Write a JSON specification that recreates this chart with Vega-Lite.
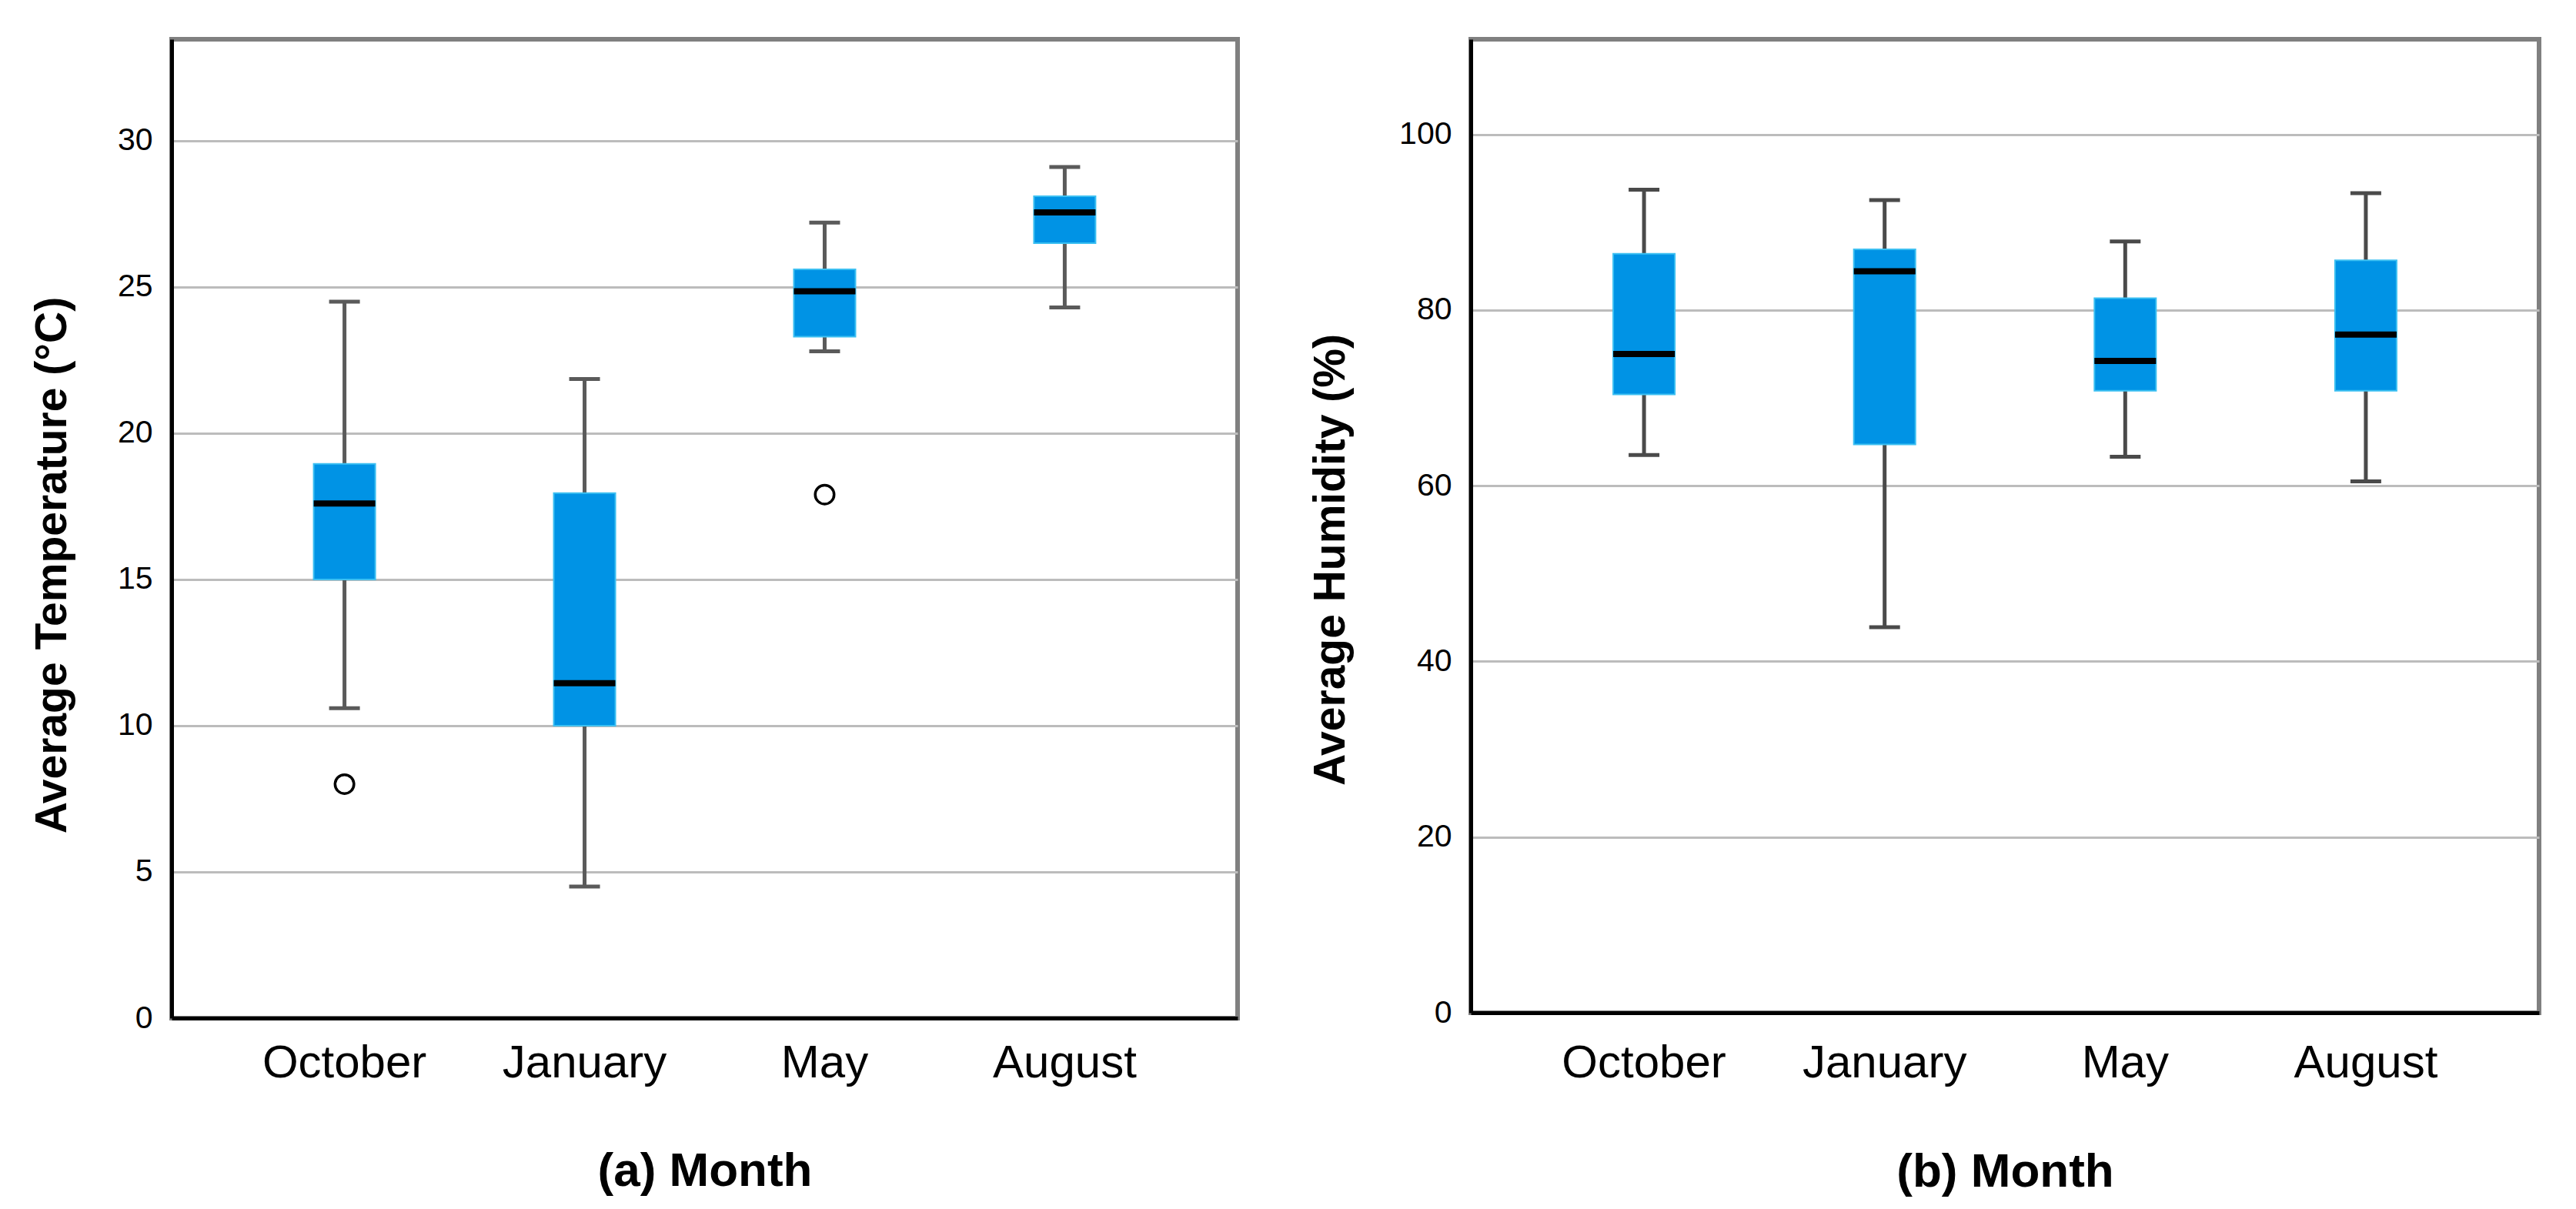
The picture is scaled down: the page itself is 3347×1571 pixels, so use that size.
{
  "$schema": "https://vega.github.io/schema/vega-lite/v6.json",
  "background": "white",
  "padding": {"left": 36, "top": 48, "right": 10, "bottom": 0},
  "config": {
    "font": "Liberation Sans",
    "view": {"stroke": "#808080", "strokeWidth": 6},
    "axis": {
      "labelColor": "#000000",
      "titleColor": "#000000",
      "labelFont": "Liberation Sans",
      "titleFont": "Liberation Sans",
      "domainColor": "#000000",
      "domainWidth": 5,
      "ticks": false,
      "tickSize": 0,
      "labelLimit": 0,
      "gridColor": "#bcbcbc",
      "gridWidth": 3
    },
    "concat": {"spacing": 86}
  },
  "datasets": {
    "temp": [
      {"month": "October", "lower": 10.6, "q1": 15.0, "median": 17.6, "q3": 18.95, "upper": 24.5},
      {"month": "January", "lower": 4.5, "q1": 10.0, "median": 11.45, "q3": 17.95, "upper": 21.85},
      {"month": "May", "lower": 22.8, "q1": 23.3, "median": 24.85, "q3": 25.6, "upper": 27.2},
      {"month": "August", "lower": 24.3, "q1": 26.5, "median": 27.55, "q3": 28.1, "upper": 29.1}
    ],
    "tempOut": [
      {"month": "October", "value": 8.0},
      {"month": "May", "value": 17.9}
    ],
    "hum": [
      {"month": "October", "lower": 63.5, "q1": 70.4, "median": 75.0, "q3": 86.4, "upper": 93.7},
      {"month": "January", "lower": 43.9, "q1": 64.7, "median": 84.4, "q3": 86.9, "upper": 92.5},
      {"month": "May", "lower": 63.3, "q1": 70.8, "median": 74.2, "q3": 81.35, "upper": 87.8},
      {"month": "August", "lower": 60.5, "q1": 70.8, "median": 77.2, "q3": 85.65, "upper": 93.3}
    ]
  },
  "hconcat": [
    {
      "width": 1385,
      "height": 1272,
      "data": {"name": "temp"},
      "encoding": {
        "x": {
          "field": "month", "type": "nominal",
          "sort": ["October", "January", "May", "August"],
          "scale": {"paddingInner": 0, "paddingOuter": 0.22},
          "axis": {"title": "(a) Month", "labelAngle": 0, "labelFontSize": 60, "labelPadding": 29, "labelLimit": 0, "titleFontSize": 62, "titleFontWeight": "bold", "titlePadding": 80, "grid": false}
        }
      },
      "layer": [
        {
          "mark": {"type": "rule", "color": "#5a5a5a", "strokeWidth": 5},
          "encoding": {
            "y": {"field": "lower", "type": "quantitative", "title": "Average Temperature (°C)",
              "scale": {"domain": [0, 33.47], "nice": false, "zero": false},
              "axis": {"values": [0, 5, 10, 15, 20, 25, 30], "labelFontSize": 41, "labelPadding": 25, "titleFontSize": 57, "titleFontWeight": "bold", "titleX": -126, "titleY": 683, "grid": true}},
            "y2": {"field": "upper"}
          }
        },
        {
          "mark": {"type": "bar", "size": 80, "color": "#0093e5", "stroke": "#3cc0f2", "strokeWidth": 2},
          "encoding": {
            "y": {"field": "q1", "type": "quantitative", "title": "Average Temperature (°C)"},
            "y2": {"field": "q3"}
          }
        },
        {
          "mark": {"type": "tick", "color": "#000000", "size": 80, "thickness": 8, "opacity": 1},
          "encoding": {"y": {"field": "median", "type": "quantitative", "title": "Average Temperature (°C)"}}
        },
        {
          "mark": {"type": "tick", "color": "#5a5a5a", "size": 40, "thickness": 5, "opacity": 1},
          "encoding": {"y": {"field": "lower", "type": "quantitative", "title": "Average Temperature (°C)"}}
        },
        {
          "mark": {"type": "tick", "color": "#5a5a5a", "size": 40, "thickness": 5, "opacity": 1},
          "encoding": {"y": {"field": "upper", "type": "quantitative", "title": "Average Temperature (°C)"}}
        },
        {
          "data": {"name": "tempOut"},
          "mark": {"type": "point", "shape": "circle", "filled": false, "color": "#000000", "strokeWidth": 3.5, "size": 600, "opacity": 1},
          "encoding": {"y": {"field": "value", "type": "quantitative", "title": "Average Temperature (°C)"}}
        }
      ]
    },
    {
      "width": 1388,
      "height": 1265,
      "data": {"name": "hum"},
      "encoding": {
        "x": {
          "field": "month", "type": "nominal",
          "sort": ["October", "January", "May", "August"],
          "scale": {"paddingInner": 0, "paddingOuter": 0.22},
          "axis": {"title": "(b) Month", "labelAngle": 0, "labelFontSize": 60, "labelPadding": 36, "labelLimit": 0, "titleFontSize": 62, "titleFontWeight": "bold", "titlePadding": 81, "grid": false}
        }
      },
      "layer": [
        {
          "mark": {"type": "rule", "color": "#4a4a4a", "strokeWidth": 5},
          "encoding": {
            "y": {"field": "lower", "type": "quantitative", "title": "Average Humidity (%)",
              "scale": {"domain": [0, 110.82], "nice": false, "zero": false},
              "axis": {"values": [0, 20, 40, 60, 80, 100], "labelFontSize": 41, "labelPadding": 25, "titleFontSize": 57, "titleFontWeight": "bold", "titleX": -153, "titleY": 676, "grid": true}},
            "y2": {"field": "upper"}
          }
        },
        {
          "mark": {"type": "bar", "size": 80, "color": "#0093e5", "stroke": "#3cc0f2", "strokeWidth": 2},
          "encoding": {
            "y": {"field": "q1", "type": "quantitative", "title": "Average Humidity (%)"},
            "y2": {"field": "q3"}
          }
        },
        {
          "mark": {"type": "tick", "color": "#000000", "size": 80, "thickness": 8, "opacity": 1},
          "encoding": {"y": {"field": "median", "type": "quantitative", "title": "Average Humidity (%)"}}
        },
        {
          "mark": {"type": "tick", "color": "#4a4a4a", "size": 40, "thickness": 5, "opacity": 1},
          "encoding": {"y": {"field": "lower", "type": "quantitative", "title": "Average Humidity (%)"}}
        },
        {
          "mark": {"type": "tick", "color": "#4a4a4a", "size": 40, "thickness": 5, "opacity": 1},
          "encoding": {"y": {"field": "upper", "type": "quantitative", "title": "Average Humidity (%)"}}
        }
      ]
    }
  ]
}
